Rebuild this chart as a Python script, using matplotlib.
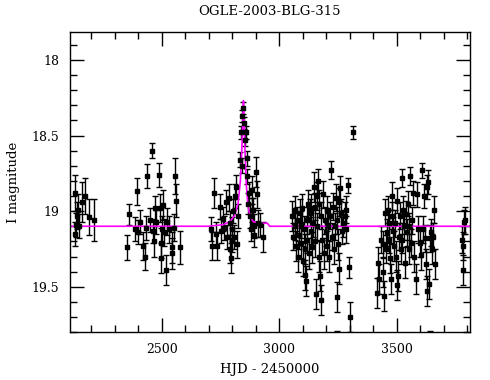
import numpy as np
import matplotlib
matplotlib.use("Agg")
import matplotlib.pyplot as plt
from matplotlib.ticker import MultipleLocator

# season 1 (hjd, mag, err)
s1_t = [2130, 2133, 2140, 2148, 2162, 2172, 2191, 2211, 2136, 2145]
s1_m = [18.88, 19.15, 19.03, 19.10, 18.94, 18.90, 19.04, 19.06, 19.09, 18.99]
s1_e = [0.12, 0.08, 0.09, 0.08, 0.13, 0.12, 0.12, 0.14, 0.08, 0.10]

# season 2
s2_t = [2351, 2361, 2385, 2395, 2399, 2407, 2421, 2428, 2432, 2438, 2449, 2459,
        2463, 2467, 2470, 2477, 2489, 2492, 2496, 2496, 2501, 2506, 2510, 2520,
        2523, 2531, 2544, 2545, 2553, 2555, 2560, 2577]
s2_m = [19.24, 19.02, 19.12, 18.87, 19.14, 19.07, 19.23, 19.30, 19.11, 18.77,
        19.06, 18.60, 19.13, 19.20, 18.98, 19.07, 18.76, 18.98, 19.21, 19.31,
        19.12, 18.96, 19.14, 19.39, 19.07, 19.12, 19.28, 19.24, 19.11, 18.77,
        18.93, 19.24]
s2_e = [0.08, 0.07, 0.08, 0.09, 0.08, 0.08, 0.09, 0.09, 0.08, 0.08,
        0.08, 0.05, 0.08, 0.10, 0.08, 0.08, 0.08, 0.09, 0.10, 0.10,
        0.09, 0.10, 0.09, 0.10, 0.09, 0.09, 0.10, 0.10, 0.09, 0.12,
        0.11, 0.11]

# season 3 (event)
s3_t = [2710, 2716, 2723, 2730, 2737, 2747, 2753, 2762, 2767, 2773, 2779, 2788,
        2791, 2792, 2794, 2798, 2801, 2805, 2809, 2813, 2816, 2819, 2824, 2833,
        2838, 2841, 2843, 2847, 2850, 2855, 2857, 2862, 2864, 2869, 2872, 2876,
        2879, 2883, 2886, 2890, 2894, 2894, 2900, 2906, 2911, 2920, 2932]
s3_m = [19.12, 19.23, 18.88, 19.15, 19.23, 18.97, 19.13, 19.05, 19.11, 18.94,
        19.17, 18.91, 19.08, 19.25, 19.31, 19.12, 19.19, 19.00, 19.17, 18.90,
        18.84, 19.22, 19.03, 18.66, 18.48, 18.70, 18.37, 18.32, 18.42, 18.53,
        18.48, 18.65, 18.77, 18.95, 18.88, 19.03, 19.12, 18.99, 18.86, 18.99,
        19.10, 19.16, 18.74, 18.89, 19.08, 19.09, 19.17]
s3_e = [0.08, 0.09, 0.10, 0.08, 0.09, 0.08, 0.08, 0.08, 0.08, 0.08,
        0.08, 0.09, 0.08, 0.09, 0.10, 0.08, 0.08, 0.08, 0.08, 0.08,
        0.08, 0.09, 0.08, 0.05, 0.04, 0.05, 0.04, 0.04, 0.04, 0.04,
        0.04, 0.05, 0.05, 0.07, 0.07, 0.08, 0.08, 0.08, 0.09, 0.08,
        0.08, 0.08, 0.10, 0.09, 0.09, 0.08, 0.10]

# season 4
s4_t = [3055, 3059, 3066, 3069, 3073, 3077, 3080, 3084, 3087, 3091, 3094, 3098,
        3101, 3105, 3108, 3111, 3114, 3117, 3120, 3123, 3126, 3130, 3134, 3137,
        3141, 3144, 3147, 3151, 3154, 3157, 3160, 3163, 3165, 3168, 3171, 3174,
        3177, 3180, 3184, 3187, 3191, 3194, 3198, 3202, 3205, 3208, 3212, 3216,
        3222, 3225, 3229, 3233, 3236, 3240, 3245, 3247, 3250, 3253, 3256, 3259,
        3264, 3268, 3273, 3279, 3283, 3286, 3293, 3296, 3300, 3313, 3170, 3245]
s4_m = [19.03, 19.17, 19.10, 18.99, 19.23, 19.06, 19.30, 19.16, 19.01, 19.21,
        19.09, 18.98, 19.33, 19.12, 19.25, 19.42, 19.46, 19.06, 19.19, 18.95,
        19.28, 19.01, 19.13, 18.98, 19.24, 19.08, 18.84, 18.97, 19.20, 19.55,
        18.90, 19.10, 18.80, 19.30, 18.95, 19.43, 19.59, 19.03, 19.19, 18.89,
        19.28, 19.06, 19.14, 18.99, 19.23, 19.10, 19.30, 19.03, 18.73, 19.17,
        18.97, 19.25, 19.10, 18.91, 19.57, 19.06, 19.22, 19.38, 18.94, 18.85,
        19.01, 19.13, 19.08, 19.03, 19.12, 18.99, 18.83, 19.37, 19.70, 18.48,
        19.92, 19.90]
s4_e = [0.10, 0.09, 0.09, 0.09, 0.10, 0.09, 0.10, 0.09, 0.09, 0.10,
        0.09, 0.09, 0.10, 0.09, 0.10, 0.10, 0.10, 0.09, 0.09, 0.09,
        0.10, 0.09, 0.09, 0.09, 0.10, 0.09, 0.10, 0.09, 0.10, 0.10,
        0.09, 0.09, 0.08, 0.10, 0.09, 0.10, 0.10, 0.09, 0.09, 0.09,
        0.10, 0.09, 0.09, 0.09, 0.10, 0.09, 0.10, 0.09, 0.06, 0.09,
        0.09, 0.10, 0.09, 0.09, 0.10, 0.09, 0.10, 0.10, 0.09, 0.08,
        0.09, 0.09, 0.09, 0.09, 0.09, 0.09, 0.05, 0.07, 0.10, 0.04,
        0.11, 0.11]

# season 5
s5_t = [3415, 3422, 3426, 3433, 3441, 3443, 3447, 3450, 3455, 3458, 3462, 3466,
        3469, 3472, 3474, 3479, 3482, 3486, 3490, 3493, 3497, 3500, 3503, 3507,
        3511, 3514, 3519, 3523, 3525, 3528, 3532, 3537, 3540, 3543, 3547, 3551,
        3554, 3557, 3561, 3566, 3571, 3575, 3581, 3585, 3592, 3599, 3604, 3607,
        3614, 3616, 3621, 3625, 3628, 3631, 3635, 3639, 3642, 3646, 3650, 3656,
        3660, 3664, 3525, 3640]
s5_m = [19.54, 19.34, 19.45, 19.19, 19.22, 19.40, 19.56, 19.01, 19.25, 19.14,
        18.99, 19.19, 19.08, 19.31, 19.45, 18.90, 19.03, 19.13, 19.23, 19.08,
        19.30, 19.49, 18.93, 19.43, 19.17, 19.03, 19.25, 18.78, 19.19, 18.99,
        19.10, 19.34, 19.02, 19.14, 18.95, 19.25, 19.10, 18.77, 19.21, 19.06,
        18.88, 19.30, 19.45, 18.89, 19.12, 19.21, 19.29, 18.73, 19.12, 18.90,
        19.18, 19.35, 18.84, 19.53, 18.81, 19.48, 19.18, 19.14, 19.25, 19.17,
        18.99, 19.35, 19.92, 19.90]
s5_e = [0.10, 0.10, 0.10, 0.09, 0.09, 0.10, 0.10, 0.09, 0.09, 0.09,
        0.09, 0.09, 0.09, 0.10, 0.10, 0.09, 0.09, 0.09, 0.10, 0.09,
        0.10, 0.10, 0.08, 0.10, 0.09, 0.09, 0.10, 0.06, 0.09, 0.09,
        0.09, 0.10, 0.09, 0.09, 0.08, 0.10, 0.09, 0.06, 0.09, 0.09,
        0.08, 0.10, 0.10, 0.08, 0.09, 0.09, 0.10, 0.05, 0.09, 0.08,
        0.09, 0.10, 0.08, 0.10, 0.08, 0.10, 0.09, 0.09, 0.10, 0.09,
        0.09, 0.10, 0.08, 0.11]

# season 6
s6_t = [3777, 3784, 3788, 3784, 3792]
s6_m = [19.19, 19.23, 19.07, 19.39, 19.06]
s6_e = [0.09, 0.09, 0.08, 0.10, 0.09]

# model light curve
mod_t = [2110, 2700, 2760, 2790, 2810, 2825, 2835, 2841, 2845, 2848, 2851,
         2855, 2860, 2867, 2875, 2890, 2920, 2950, 2960, 3000, 3810]
mod_m = [19.10, 19.10, 19.09, 19.07, 19.03, 18.95, 18.80, 18.60, 18.40, 18.27,
         18.40, 18.62, 18.82, 18.96, 19.03, 19.07, 19.08, 19.08, 19.10, 19.10,
         19.10]

plt.rcParams['font.family'] = ['DejaVu Serif']
fig = plt.figure(figsize=(4.9, 3.8), dpi=100)
ax = fig.add_axes([0.143, 0.126, 0.816, 0.79])

t = s1_t + s2_t + s3_t + s4_t + s5_t + s6_t
m = s1_m + s2_m + s3_m + s4_m + s5_m + s6_m
e = s1_e + s2_e + s3_e + s4_e + s5_e + s6_e
ax.errorbar(t, m, yerr=e, fmt='s', color='black', ms=3, elinewidth=1.0,
            capsize=2.2, capthick=1.0)
ax.plot(mod_t, mod_m, color='#ff00ff', lw=1.2)

ax.set_xlim(2110, 3812)
ax.set_ylim(19.8, 17.815)
ax.xaxis.set_major_locator(MultipleLocator(500))
ax.xaxis.set_minor_locator(MultipleLocator(100))
ax.yaxis.set_minor_locator(MultipleLocator(0.1))
ax.set_yticks([18, 18.5, 19, 19.5])
ax.set_yticklabels(['18', '18.5', '19', '19.5'])
ax.tick_params(which='both', direction='in', top=True, right=True, labelsize=9, width=1.0)
ax.tick_params(which='major', length=10, pad=8)
ax.tick_params(which='minor', length=5)
for sp in ax.spines.values():
    sp.set_linewidth(1.0)

ax.set_title('OGLE-2003-BLG-315', fontsize=9.5, pad=12)
ax.set_xlabel('HJD - 2450000', fontsize=9.5, labelpad=5)
ax.set_ylabel('I magnitude', fontsize=9.5, labelpad=8)

fig.savefig('out.png', dpi=100)
